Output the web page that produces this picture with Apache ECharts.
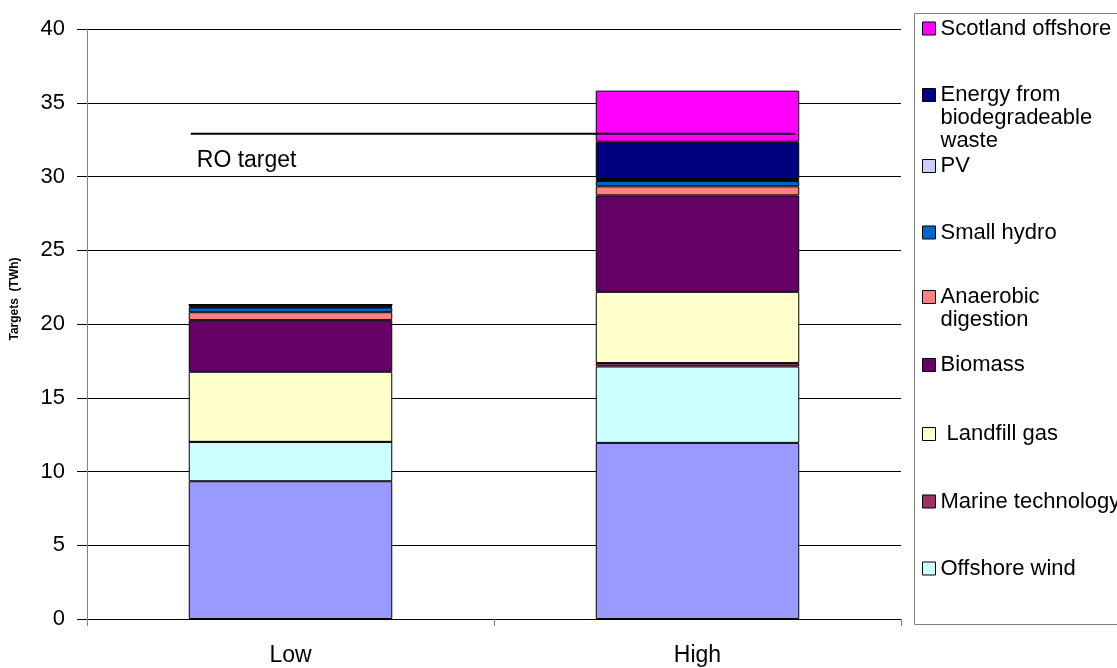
<!DOCTYPE html>
<html>
<head>
<meta charset="utf-8">
<script src="https://cdn.jsdelivr.net/npm/echarts@6/dist/echarts.min.js"></script>
<style>
html,body{margin:0;padding:0;background:#fff;}
#chart{width:1117px;height:668px;}
</style>
</head>
<body>
<div id="chart"></div>
<script>
// ---- data ----
const categories = ['Low', 'High'];
const seriesNames = ['Onshore wind', 'Offshore wind', 'Marine technology', 'Landfill gas', 'Biomass',
  'Anaerobic digestion', 'Small hydro', 'PV', 'Energy from biodegradeable waste', 'Scotland offshore'];
const onshoreWind   = [9.34, 11.94];
const offshoreWind  = [2.67, 5.18];
const marineTech    = [0, 0.23];
const landfillGas   = [4.75, 4.83];
const biomass       = [3.50, 6.54];
const anaerobic     = [0.54, 0.61];
const smallHydro    = [0.32, 0.36];
const pv            = [0.05, 0.14];
const energyWaste   = [0.15, 2.53];
const scotlandOff   = [0, 3.46];
const roTarget = 32.9;
const roTargetSpan = [0.255, 1.74]; // in category units (0..2)
const yTicks = {min: 0, max: 40, interval: 5};

// ---- styling ----
const seriesValues = [onshoreWind, offshoreWind, marineTech, landfillGas, biomass, anaerobic, smallHydro, pv, energyWaste, scotlandOff];
const colors = ['#9999FF', '#CCFFFF', '#993366', '#FFFFCC', '#660066', '#FF8080', '#0066CC', '#CCCCFF', '#000080', '#FF00FF'];
const FONT = "'Liberation Sans', Arial, sans-serif";

const barSeries = seriesNames.map((n, i) => ({
  name: n,
  type: 'bar',
  stack: 'total',
  barWidth: '50%',
  data: seriesValues[i],
  itemStyle: {color: colors[i], borderColor: '#000', borderWidth: 1},
  emphasis: {disabled: true},
  animation: false
}));

// legend entries (top to bottom) with icon positions
const legendItems = [
  {name: 'Scotland offshore', text: 'Scotland offshore', lines: 1, y: 28.5},
  {name: 'Energy from biodegradeable waste', text: '\n\nEnergy from\nbiodegradeable\nwaste', lines: 5, y: 95},
  {name: 'PV', text: 'PV', lines: 1, y: 166},
  {name: 'Small hydro', text: 'Small hydro', lines: 1, y: 232.5},
  {name: 'Anaerobic digestion', text: '\nAnaerobic\ndigestion', lines: 3, y: 297},
  {name: 'Biomass', text: 'Biomass', lines: 1, y: 365},
  {name: 'Landfill gas', text: ' Landfill gas', lines: 1, y: 434},
  {name: 'Marine technology', text: 'Marine technology', lines: 1, y: 501.5},
  {name: 'Offshore wind', text: 'Offshore wind', lines: 1, y: 568.5}
];
const LH = 23;
const legends = legendItems.map(it => ({
  show: true,
  data: [it.name],
  left: 922,
  top: it.y - it.lines * LH / 2,
  padding: 0,
  orient: 'vertical',
  icon: 'rect',
  itemWidth: 13,
  itemHeight: 13,
  selectedMode: false,
  itemStyle: {borderColor: '#000', borderWidth: 1},
  formatter: () => it.text,
  textStyle: {fontFamily: FONT, fontSize: 22, color: '#000', lineHeight: LH}
}));

const chart = echarts.init(document.getElementById('chart'), null, {renderer: 'canvas'});
chart.setOption({
  backgroundColor: '#fff',
  animation: false,
  legend: legends,
  grid: {left: 87, right: 216, top: 29, bottom: 49, containLabel: false, outerBoundsMode: 'none'},
  xAxis: [{
    type: 'category',
    data: categories,
    boundaryGap: true,
    axisLine: {show: true, lineStyle: {color: '#000', width: 1}},
    axisTick: {show: true, length: 7, alignWithLabel: false, lineStyle: {color: '#808080'}},
    axisLabel: {fontFamily: FONT, fontSize: 23, color: '#000', margin: 25},
    splitLine: {show: false}
  }, {
    type: 'value',
    min: 0, max: 2,
    show: false
  }],
  yAxis: {
    type: 'value',
    min: yTicks.min, max: yTicks.max, interval: yTicks.interval,
    name: 'Targets  (TWh)',
    nameLocation: 'middle',
    nameGap: 66,
    nameTextStyle: {fontFamily: FONT, fontSize: 12, fontWeight: 'bold', color: '#000', padding: [0, 0, 0, 50]},
    axisLine: {show: true, lineStyle: {color: '#808080', width: 1}},
    axisTick: {show: true, length: 10, inside: false, lineStyle: {color: '#000'}},
    axisLabel: {fontFamily: FONT, fontSize: 22, color: '#000', margin: 22},
    splitLine: {show: true, lineStyle: {color: '#000', width: 1}}
  },
  graphic: [{
    type: 'rect',
    silent: true,
    shape: {x: 914.5, y: 13.5, width: 230, height: 611},
    style: {fill: 'none', stroke: '#808080', lineWidth: 1},
    z: 0
  }],
  series: barSeries.concat([{
    name: 'RO target',
    type: 'line',
    xAxisIndex: 1,
    data: [
      {value: [roTargetSpan[0], roTarget], label: {show: true, formatter: 'RO target', position: 'bottom', align: 'left', offset: [6, 0], distance: 15, fontFamily: FONT, fontSize: 23, color: '#000'}},
      {value: [roTargetSpan[1], roTarget]}
    ],
    symbol: 'circle',
    symbolSize: 1,
    showSymbol: true,
    itemStyle: {color: 'rgba(0,0,0,0)'},
    lineStyle: {color: '#000', width: 2},
    emphasis: {disabled: true},
    z: 5
  }])
});
</script>
</body>
</html>
